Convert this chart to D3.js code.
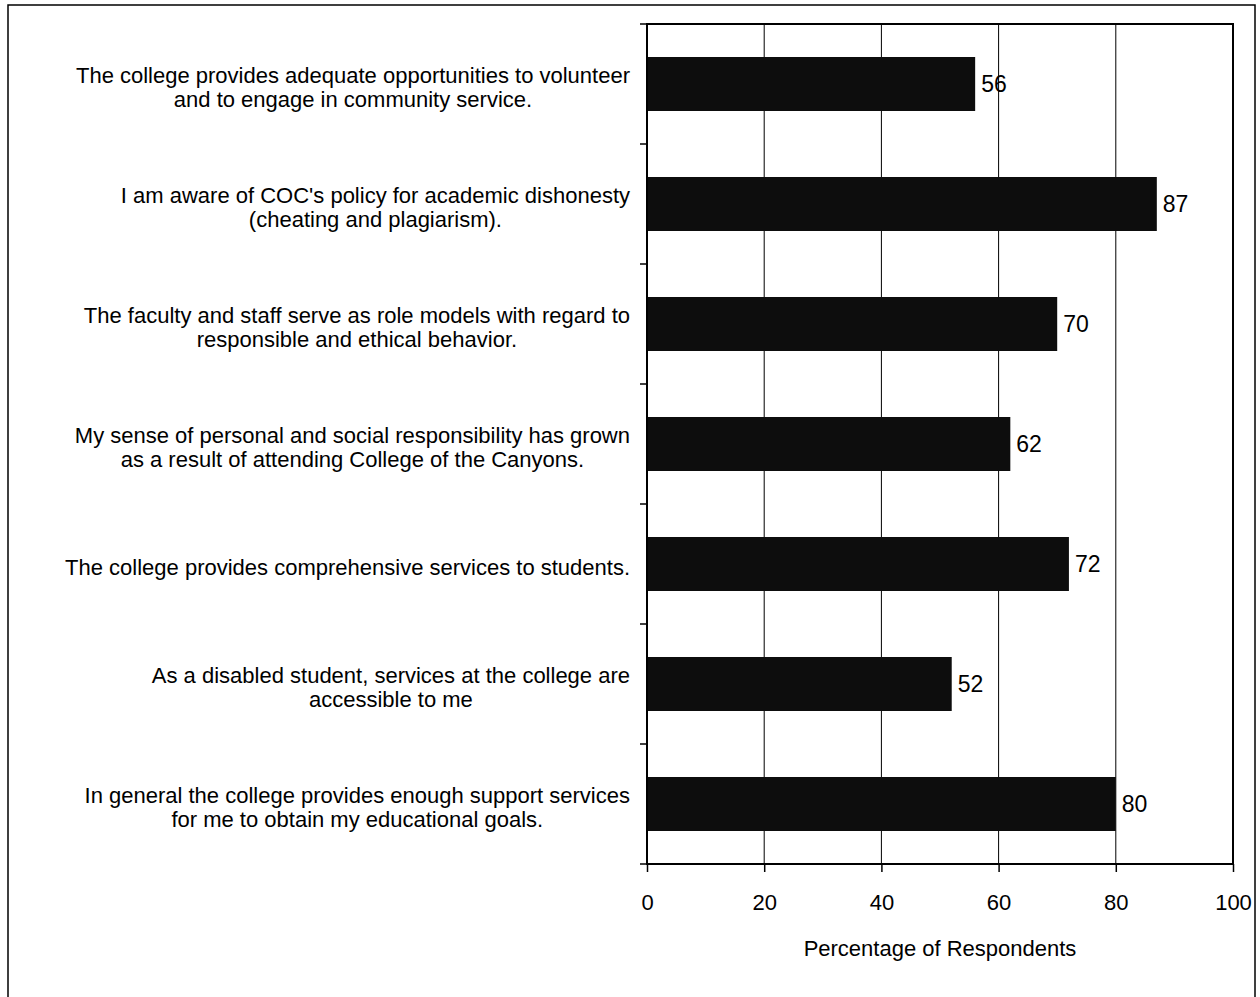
<!DOCTYPE html>
<html>
<head>
<meta charset="utf-8">
<script src="https://cdn.jsdelivr.net/npm/d3@7"></script>
<style>
  body { margin: 0; background: #fff; }
  svg text { font-family: Arial, "Liberation Sans", sans-serif; fill: #000; }
</style>
</head>
<body>
<div id="bar-chart"></div>
<script>
// statements, wrapped like the original
let categories = [
    ["The college provides adequate opportunities to volunteer", "and to engage in community service."],
    ["I am aware of COC's policy for academic dishonesty", "(cheating and plagiarism)."],
    ["The faculty and staff serve as role models with regard to", "responsible and ethical behavior."],
    ["My sense of personal and social responsibility has grown", "as a result of attending College of the Canyons."],
    ["The college provides comprehensive services to students."],
    ["As a disabled student, services at the college are", "accessible to me"],
    ["In general the college provides enough support services", "for me to obtain my educational goals."]
];
let values = [56, 87, 70, 62, 72, 52, 80];
let xTicks = [0, 20, 40, 60, 80, 100];

let svgWidth = 1260, svgHeight = 997;
let margin = {top: 24, right: 27, bottom: 133, left: 647};
let width = svgWidth - margin.left - margin.right,
    height = svgHeight - margin.top - margin.bottom;

let svg = d3.select("#bar-chart").append("svg")
    .attr("width", svgWidth)
    .attr("height", svgHeight);

// outer frame
svg.append("rect")
    .attr("x", 8).attr("y", 5)
    .attr("width", 1247).attr("height", 1000)
    .attr("fill", "none")
    .attr("stroke", "#000")
    .attr("stroke-width", 1.5);

let g = svg.append("g")
    .attr("transform", "translate(" + margin.left + "," + margin.top + ")");

let idx = categories.map((d, i) => i);
let x = d3.scaleLinear().domain([0, 100]).range([0, width]);
let y = d3.scaleBand().domain(idx).range([0, height]).paddingInner(0.55).paddingOuter(0.275);
let yb = d3.scaleLinear().domain([0, categories.length]).range([0, height]);

// gridlines
g.selectAll(".grid")
    .data(xTicks.slice(1, -1))
    .enter().append("line")
    .attr("x1", d => x(d)).attr("x2", d => x(d))
    .attr("y1", 0).attr("y2", height)
    .attr("stroke", "#000").attr("stroke-width", 1);

// bars
g.selectAll(".bar")
    .data(idx)
    .enter().append("rect")
    .attr("class", "bar")
    .attr("x", 0)
    .attr("y", d => y(d))
    .attr("width", d => x(values[d]))
    .attr("height", y.bandwidth())
    .attr("fill", "#0d0d0d");

// value labels
g.selectAll(".val")
    .data(idx)
    .enter().append("text")
    .attr("x", d => x(values[d]) + 6)
    .attr("y", d => y(d) + y.bandwidth() / 2)
    .attr("dy", "0.36em")
    .style("font-size", "23px")
    .text(d => values[d]);

// plot frame
g.append("rect")
    .attr("width", width).attr("height", height)
    .attr("fill", "none")
    .attr("stroke", "#000").attr("stroke-width", 2);

// category separator ticks on the left axis
g.selectAll(".ytick")
    .data(d3.range(categories.length + 1))
    .enter().append("line")
    .attr("x1", -7).attr("x2", 0)
    .attr("y1", d => yb(d)).attr("y2", d => yb(d))
    .attr("stroke", "#000").attr("stroke-width", 1.5);

// x axis
let xAxis = d3.axisBottom(x)
    .tickValues(xTicks)
    .tickSize(8)
    .tickPadding(22);

g.append("g")
    .attr("transform", "translate(0," + height + ")")
    .call(xAxis)
    .call(a => a.select(".domain").remove())
    .call(a => a.selectAll("line").attr("stroke", "#000").attr("stroke-width", 1.5))
    .call(a => a.selectAll("text").style("font-size", "22px").style("font-family", "Arial, 'Liberation Sans', sans-serif"));

// category labels, lines centred, block right-aligned to the axis
let labels = g.selectAll(".cat")
    .data(idx)
    .enter().append("text")
    .attr("text-anchor", "middle")
    .style("font-size", "22px");

labels.each(function(d) {
    let lines = categories[d];
    let t = d3.select(this);
    lines.forEach((s, i) => {
        t.append("tspan")
            .attr("x", 0)
            .attr("y", (i - (lines.length - 1) / 2) * 24)
            .attr("dy", "0.35em")
            .text(s);
    });
    let w = d3.max(t.selectAll("tspan").nodes(), n => n.getComputedTextLength());
    t.attr("transform", "translate(" + (-17 - w / 2) + "," + (y(d) + y.bandwidth() / 2 + 3) + ")");
});

// axis title
g.append("text")
    .attr("x", width / 2)
    .attr("y", height + 92)
    .attr("text-anchor", "middle")
    .style("font-size", "22px")
    .text("Percentage of Respondents");
</script>
</body>
</html>
